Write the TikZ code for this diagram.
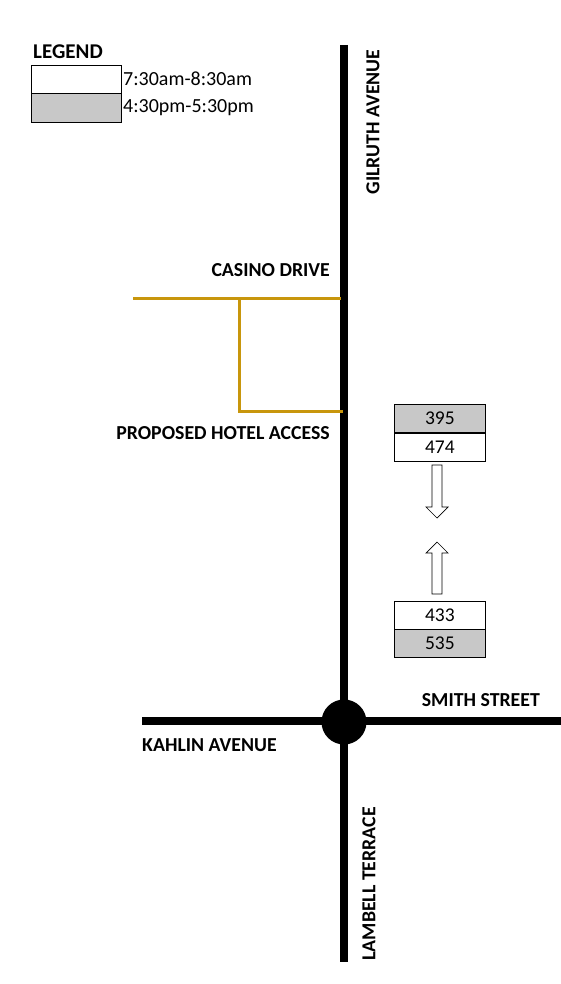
\documentclass[tikz,border=0pt]{standalone}
\usepackage{fontspec}
\setmainfont{Carlito}
\definecolor{gold}{HTML}{C8960C}
\definecolor{boxgray}{HTML}{C8C8C8}
\begin{document}
\begin{tikzpicture}[x=1pt,y=-1pt,
  road/.style={line width=7.5pt,black},
  access/.style={line width=3pt,gold},
  lbl/.style={font=\bfseries\fontsize{19.8}{22}\selectfont,inner sep=0pt},
  cnt/.style={draw,line width=0.8pt,minimum width=91pt,minimum height=28pt,inner sep=0pt,font=\fontsize{19.5}{22}\selectfont},
  legtxt/.style={font=\fontsize{20}{22}\selectfont,inner sep=0pt,anchor=west},
  flow/.style={draw,line width=0.7pt,fill=white,line join=miter}]
\useasboundingbox (0,0) rectangle (561,984);
% roads
\coordinate (gtop) at (344,45);
\coordinate (lbot) at (344,962);
\coordinate (kw) at (142,721);
\coordinate (se) at (561,721);
\draw[road] (gtop) -- (lbot);
\draw[road] (kw) -- (se);
\node[circle,fill=black,minimum size=45pt,inner sep=0pt] (rb) at (344,722) {};
% access roads
\coordinate (cw) at (133,298);
\coordinate (ce) at (341,298);
\coordinate (j1) at (239,298);
\coordinate (j2) at (239,411);
\coordinate (he) at (341,411);
\draw[access] (cw) -- (ce);
\draw[access,line cap=rect] (j1) -- (j2) -- (he);
% labels
\node[lbl,anchor=east] (casino) at (330,270) {CASINO DRIVE};
\node[lbl,anchor=east] (hotel) at (330,433) {PROPOSED HOTEL ACCESS};
\node[lbl,anchor=east] (smith) at (540,700) {SMITH STREET};
\node[lbl,anchor=west] (kahlin) at (142,745) {KAHLIN AVENUE};
\node[lbl,rotate=90] (gil) at (373,122) {GILRUTH AVENUE};
\node[lbl,rotate=90] (lam) at (369,884) {LAMBELL TERRACE};
% legend
\node[lbl,anchor=west,font=\bfseries\fontsize{21}{22}\selectfont] (leg) at (33,52) {LEGEND};
\node[draw,line width=0.8pt,minimum width=90pt,minimum height=28pt,inner sep=0pt,anchor=north west] (lam1) at (31,65) {};
\node[draw,line width=0.8pt,fill=boxgray,minimum width=90pt,minimum height=29pt,inner sep=0pt,anchor=north west] (lpm1) at (31,93) {};
\node[legtxt] (t1) at (123,79) {7:30am-8:30am};
\node[legtxt] (t2) at (123,108) {4:30pm-5:30pm};
% counts
\node[cnt,fill=boxgray,anchor=north west] (n395) at (394,404) {395};
\node[cnt,anchor=north west] (n474) at (394,433) {474};
\node[cnt,anchor=north west] (n433) at (394,601) {433};
\node[cnt,fill=boxgray,anchor=north west] (n535) at (394,629) {535};
% flow arrows
\draw[flow] (432,465) -- (442,465) -- (442,507) -- (448,507) -- (437,518) -- (426,507) -- (432,507) -- cycle;
\draw[flow] (432,594) -- (442,594) -- (442,553) -- (448,553) -- (437,542) -- (426,553) -- (432,553) -- cycle;
\end{tikzpicture}
\end{document}
